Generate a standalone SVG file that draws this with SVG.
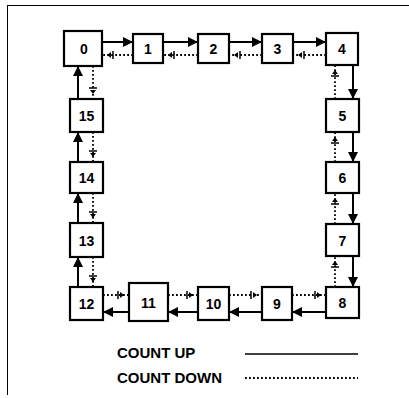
<svg xmlns="http://www.w3.org/2000/svg" width="409" height="398" viewBox="0 0 409 398">
<defs>
<marker id="ah" viewBox="0 0 10 10" refX="10" refY="5" markerWidth="10" markerHeight="10" markerUnits="userSpaceOnUse" orient="auto">
<path d="M0,0 L10,5 L0,10 Z" fill="#000"/>
</marker>
</defs>
<style>
.box{fill:#fff;stroke:#000;stroke-width:2.2}
.lbl{font-family:"Liberation Sans",Arial,sans-serif;font-weight:bold;font-size:14px;text-anchor:middle;fill:#000}
.up{stroke:#000;stroke-width:2;fill:none}
.dn{stroke:#000;stroke-width:1.8;stroke-dasharray:1.8 2.2;fill:none}
.sym{fill:#000}
.symb{stroke:#000;stroke-width:1.5}
.leg{font-family:"Liberation Sans",Arial,sans-serif;font-weight:bold;font-size:15px;fill:#000}
</style>
<rect width="409" height="398" fill="#fff"/>
<g id="frame">
<line x1="7" y1="5.5" x2="409" y2="5.5" stroke="#000" stroke-width="1"/>
<line x1="7.5" y1="5" x2="7.5" y2="395" stroke="#000" stroke-width="1"/>
</g>
<g id="connectors">
<line class="up" x1="102" y1="42" x2="133" y2="42" marker-end="url(#ah)"/>
<line class="up" x1="163" y1="42" x2="198" y2="42" marker-end="url(#ah)"/>
<line class="up" x1="229" y1="42" x2="262" y2="42" marker-end="url(#ah)"/>
<line class="up" x1="293" y1="42" x2="326" y2="42" marker-end="url(#ah)"/>
<line class="up" x1="353" y1="65" x2="353" y2="99" marker-end="url(#ah)"/>
<line class="up" x1="353" y1="132" x2="353" y2="162" marker-end="url(#ah)"/>
<line class="up" x1="353" y1="193" x2="353" y2="224" marker-end="url(#ah)"/>
<line class="up" x1="353" y1="256" x2="353" y2="287" marker-end="url(#ah)"/>
<line class="up" x1="326" y1="312" x2="292" y2="312" marker-end="url(#ah)"/>
<line class="up" x1="262" y1="312" x2="229" y2="312" marker-end="url(#ah)"/>
<line class="up" x1="198" y1="312" x2="168" y2="312" marker-end="url(#ah)"/>
<line class="up" x1="129" y1="312" x2="103" y2="312" marker-end="url(#ah)"/>
<line class="up" x1="78" y1="287" x2="78" y2="257" marker-end="url(#ah)"/>
<line class="up" x1="78" y1="223" x2="78" y2="193" marker-end="url(#ah)"/>
<line class="up" x1="78" y1="162" x2="78" y2="132" marker-end="url(#ah)"/>
<line class="up" x1="78" y1="99" x2="78" y2="66" marker-end="url(#ah)"/>
<line class="dn" x1="133" y1="55" x2="102" y2="55"/>
<path class="sym" d="M107,55 L111,52 L111,58 Z"/><line class="symb" x1="113" y1="51" x2="113" y2="59"/>
<line class="dn" x1="198" y1="55" x2="163" y2="55"/>
<path class="sym" d="M168,55 L172,52 L172,58 Z"/><line class="symb" x1="174" y1="51" x2="174" y2="59"/>
<line class="dn" x1="262" y1="55" x2="229" y2="55"/>
<path class="sym" d="M234,55 L238,52 L238,58 Z"/><line class="symb" x1="240" y1="51" x2="240" y2="59"/>
<line class="dn" x1="326" y1="55" x2="293" y2="55"/>
<path class="sym" d="M298,55 L302,52 L302,58 Z"/><line class="symb" x1="304" y1="51" x2="304" y2="59"/>
<line class="dn" x1="335" y1="99" x2="335" y2="65"/>
<path class="sym" d="M335,70 L332,74 L338,74 Z"/><line class="symb" x1="331" y1="76" x2="339" y2="76"/>
<line class="dn" x1="335" y1="162" x2="335" y2="132"/>
<path class="sym" d="M335,137 L332,141 L338,141 Z"/><line class="symb" x1="331" y1="143" x2="339" y2="143"/>
<line class="dn" x1="335" y1="224" x2="335" y2="193"/>
<path class="sym" d="M335,198 L332,202 L338,202 Z"/><line class="symb" x1="331" y1="204" x2="339" y2="204"/>
<line class="dn" x1="335" y1="287" x2="335" y2="256"/>
<path class="sym" d="M335,261 L332,265 L338,265 Z"/><line class="symb" x1="331" y1="267" x2="339" y2="267"/>
<line class="dn" x1="292" y1="295" x2="326" y2="295"/>
<path class="sym" d="M321,295 L317,292 L317,298 Z"/><line class="symb" x1="315" y1="291" x2="315" y2="299"/>
<line class="dn" x1="229" y1="295" x2="262" y2="295"/>
<path class="sym" d="M257,295 L253,292 L253,298 Z"/><line class="symb" x1="251" y1="291" x2="251" y2="299"/>
<line class="dn" x1="168" y1="295" x2="198" y2="295"/>
<path class="sym" d="M193,295 L189,292 L189,298 Z"/><line class="symb" x1="187" y1="291" x2="187" y2="299"/>
<line class="dn" x1="103" y1="295" x2="129" y2="295"/>
<path class="sym" d="M124,295 L120,292 L120,298 Z"/><line class="symb" x1="118" y1="291" x2="118" y2="299"/>
<line class="dn" x1="93" y1="66" x2="93" y2="99"/>
<path class="sym" d="M93,94 L90,90 L96,90 Z"/><line class="symb" x1="89" y1="88" x2="97" y2="88"/>
<line class="dn" x1="93" y1="132" x2="93" y2="162"/>
<path class="sym" d="M93,157 L90,153 L96,153 Z"/><line class="symb" x1="89" y1="151" x2="97" y2="151"/>
<line class="dn" x1="93" y1="193" x2="93" y2="223"/>
<path class="sym" d="M93,218 L90,214 L96,214 Z"/><line class="symb" x1="89" y1="212" x2="97" y2="212"/>
<line class="dn" x1="93" y1="257" x2="93" y2="287"/>
<path class="sym" d="M93,282 L90,278 L96,278 Z"/><line class="symb" x1="89" y1="276" x2="97" y2="276"/>
</g>
<g id="n0"><rect class="box" x="64" y="31" width="38" height="35"/><text class="lbl" x="84" y="53.5">0</text></g>
<g id="n1"><rect class="box" x="133" y="34" width="30" height="29"/><text class="lbl" x="148" y="53.5">1</text></g>
<g id="n2"><rect class="box" x="198" y="34" width="31" height="29"/><text class="lbl" x="213.5" y="53.5">2</text></g>
<g id="n3"><rect class="box" x="262" y="34" width="31" height="29"/><text class="lbl" x="277.5" y="53.5">3</text></g>
<g id="n4"><rect class="box" x="326" y="33" width="32" height="32"/><text class="lbl" x="342" y="54">4</text></g>
<g id="n5"><rect class="box" x="326" y="99" width="33" height="33"/><text class="lbl" x="342.5" y="120.5">5</text></g>
<g id="n6"><rect class="box" x="326" y="162" width="33" height="31"/><text class="lbl" x="342.5" y="182.5">6</text></g>
<g id="n7"><rect class="box" x="326" y="224" width="33" height="32"/><text class="lbl" x="342.5" y="245.5">7</text></g>
<g id="n8"><rect class="box" x="326" y="287" width="33" height="31"/><text class="lbl" x="342.5" y="307.5">8</text></g>
<g id="n9"><rect class="box" x="262" y="287" width="30" height="33"/><text class="lbl" x="277" y="308.5">9</text></g>
<g id="n10"><rect class="box" x="198" y="287" width="31" height="33"/><text class="lbl" x="213.5" y="308.5">10</text></g>
<g id="n11"><rect class="box" x="129" y="283" width="39" height="38"/><text class="lbl" x="148.5" y="307.5">11</text></g>
<g id="n12"><rect class="box" x="70" y="287" width="33" height="33"/><text class="lbl" x="86.5" y="308.5">12</text></g>
<g id="n13"><rect class="box" x="70" y="223" width="33" height="34"/><text class="lbl" x="86.5" y="245.5">13</text></g>
<g id="n14"><rect class="box" x="70" y="162" width="33" height="31"/><text class="lbl" x="86.5" y="182.5">14</text></g>
<g id="n15"><rect class="box" x="70" y="99" width="33" height="33"/><text class="lbl" x="86.5" y="120.5">15</text></g>
<g id="legend">
<text class="leg" x="117" y="358">COUNT UP</text>
<text class="leg" x="117" y="383">COUNT DOWN</text>
<line x1="245" y1="354" x2="358" y2="354" stroke="#000" stroke-width="1.5"/>
<line x1="245" y1="378" x2="358" y2="378" stroke="#000" stroke-width="1.8" stroke-dasharray="1.8 2.2"/>
</g>
</svg>
